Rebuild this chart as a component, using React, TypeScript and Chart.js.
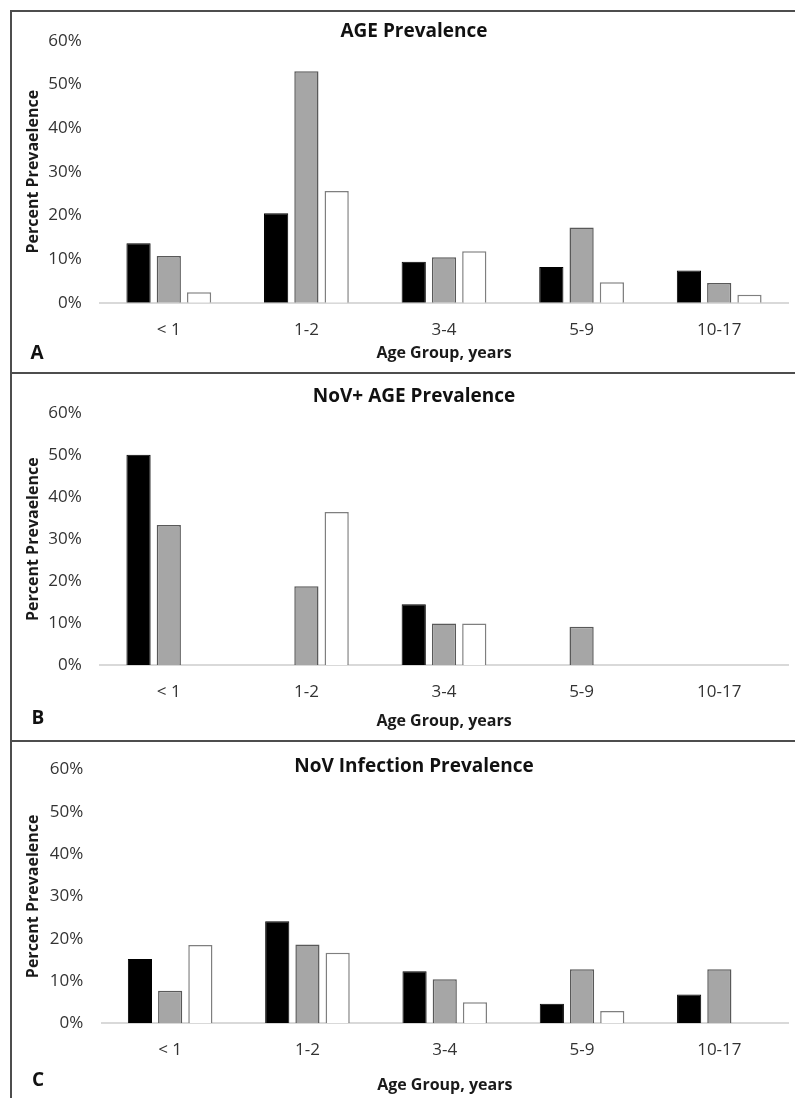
import React, { useEffect, useRef } from 'react';
import { Chart, registerables } from 'chart.js';

Chart.register(...registerables);

// ---------- data ----------
const categories = ['< 1', '1-2', '3-4', '5-9', '10-17'];
const seriesNames = ['Series 1', 'Series 2', 'Series 3'];
const yTickStep = 10;
const yMax = 60;

const titleA = 'AGE Prevalence';
const ageBlack = [13.6, 20.5, 9.4, 8.2, 7.4];
const ageGray = [10.7, 53.0, 10.4, 17.2, 4.5];
const ageWhite = [2.4, 25.6, 11.8, 4.7, 1.8];

const titleB = 'NoV+ AGE Prevalence';
const novAgeBlack = [50.1, null, 14.5, null, null];
const novAgeGray = [33.4, 18.8, 9.9, 9.1, null];
const novAgeWhite = [null, 36.5, 9.9, null, null];

const titleC = 'NoV Infection Prevalence';
const infBlack = [15.2, 24.1, 12.3, 4.6, 6.8];
const infGray = [7.7, 18.6, 10.4, 12.8, 12.8];
const infWhite = [18.5, 16.7, 5.0, 2.9, null];

const xAxisTitle = 'Age Group, years';
const yAxisTitle = 'Percent Prevaelence';

// ---------- styling / layout ----------
const FONT = "'Open Sans', 'DejaVu Sans', sans-serif";
const W = 795;

type Spec = {
  top: number; h: number;
  titleY: number; areaTop: number; areaBottom: number; tickY: number; xTitleY: number;
  yTitleX: number; yTickRight: number; left: number; right: number;
};

const specA: Spec = { top: 0, h: 372, titleY: 32, areaTop: 40.7, areaBottom: 302.7, tickY: 330, xTitleY: 353, yTitleX: 33.3, yTickRight: 81.7, left: 100, right: 788 };
const specB: Spec = { top: 374, h: 365, titleY: 22.7, areaTop: 39.3, areaBottom: 291, tickY: 317.7, xTitleY: 347.7, yTitleX: 33.3, yTickRight: 81.7, left: 100, right: 788 };
const specC: Spec = { top: 741, h: 357, titleY: 19, areaTop: 22.3, areaBottom: 282.3, tickY: 309, xTitleY: 344, yTitleX: 33.3, yTickRight: 83.3, left: 101.5, right: 788 };

const PAD_L = 40;

function Panel({ spec, title, black, gray, white }: { spec: Spec; title: string; black: (number | null)[]; gray: (number | null)[]; white: (number | null)[] }) {
  const ref = useRef<HTMLCanvasElement>(null);
  useEffect(() => {
    if (!ref.current) return;
    const titleLH = 0.2 * 19;
    const axisTitleHalf = 16 * 1.2 / 2;
    const tickHalf = 17 * 1.2 / 2;
    const common = { borderSkipped: 'start' as const, categoryPercentage: 0.66, barPercentage: 0.8 };
    const chart = new Chart(ref.current, {
      type: 'bar',
      data: {
        labels: categories,
        datasets: [
          { label: seriesNames[0], data: black, backgroundColor: '#000000', borderColor: '#000000', borderWidth: 1, ...common },
          { label: seriesNames[1], data: gray, backgroundColor: '#a6a6a6', borderColor: '#595959', borderWidth: 1.5, ...common },
          { label: seriesNames[2], data: white, backgroundColor: '#ffffff', borderColor: '#7f7f7f', borderWidth: 1.5, ...common },
        ],
      },
      options: {
        animation: false,
        responsive: false,
        maintainAspectRatio: false,
        layout: { padding: { top: 0, left: PAD_L, right: W - spec.right, bottom: spec.h - (spec.xTitleY + axisTitleHalf) } },
        plugins: {
          legend: { display: false },
          tooltip: { enabled: false },
          title: {
            display: true,
            text: title,
            color: '#111111',
            font: { family: FONT, size: 19, weight: 'bold', lineHeight: 0.2 },
            padding: { top: spec.titleY - titleLH / 2, bottom: spec.areaTop - spec.titleY - titleLH / 2 },
          },
        },
        scales: {
          x: {
            type: 'category',
            offset: true,
            grid: { display: false, drawTicks: false, tickLength: 0 },
            border: { display: true, color: '#d9d9d9', width: 2 },
            ticks: { color: '#333333', font: { family: FONT, size: 17 }, padding: spec.tickY - spec.areaBottom - tickHalf, maxRotation: 0, autoSkip: false },
            title: { display: true, text: xAxisTitle, color: '#1a1a1a', font: { family: FONT, size: 16, weight: 'bold' }, padding: { top: 0, bottom: 0 } },
            afterFit: (s: any) => { s.height = spec.xTitleY + axisTitleHalf - spec.areaBottom; },
          },
          y: {
            min: 0,
            max: yMax,
            grid: { display: false, drawTicks: false, tickLength: 0 },
            border: { display: false },
            ticks: { stepSize: yTickStep, color: '#333333', font: { family: FONT, size: 17 }, padding: spec.left - spec.yTickRight, callback: (v: any) => v + '%' },
            title: { display: true, text: yAxisTitle, color: '#1a1a1a', font: { family: FONT, size: 16, weight: 'bold' }, padding: { top: spec.yTitleX - PAD_L - axisTitleHalf, bottom: 0 } },
            afterFit: (s: any) => { s.width = spec.left - PAD_L; },
          },
        },
      },
    });
    return () => chart.destroy();
  }, [spec, title, black, gray, white]);
  return (
    <canvas
      ref={ref}
      width={W}
      height={spec.h}
      style={{ position: 'absolute', left: 0, top: spec.top, width: W, height: spec.h }}
    />
  );
}

const lineColor = '#4d4d4d';

function Letter({ x, y, text }: { x: number; y: number; text: string }) {
  return (
    <div style={{ position: 'absolute', left: x, top: y, transform: 'translate(-50%, -50%)', fontFamily: FONT, fontWeight: 700, fontSize: 19, lineHeight: 1, color: '#111' }}>
      {text}
    </div>
  );
}

export default function App() {
  return (
    <div style={{ position: 'absolute', left: 0, top: 0, width: W, height: 1098, overflow: 'hidden', background: '#fff' }}>
      <Panel spec={specA} title={titleA} black={ageBlack} gray={ageGray} white={ageWhite} />
      <Panel spec={specB} title={titleB} black={novAgeBlack} gray={novAgeGray} white={novAgeWhite} />
      <Panel spec={specC} title={titleC} black={infBlack} gray={infGray} white={infWhite} />
      <Letter x={37} y={352} text="A" />
      <Letter x={38} y={716.7} text="B" />
      <Letter x={38} y={1079} text="C" />
      <div style={{ position: 'absolute', left: 9.5, top: 9.5, width: 2, height: 1098, background: lineColor }} />
      <div style={{ position: 'absolute', left: 9.5, top: 9.5, width: W, height: 2, background: lineColor }} />
      <div style={{ position: 'absolute', left: 9.5, top: 372, width: W, height: 2, background: lineColor }} />
      <div style={{ position: 'absolute', left: 9.5, top: 739.5, width: W, height: 2, background: lineColor }} />
    </div>
  );
}
